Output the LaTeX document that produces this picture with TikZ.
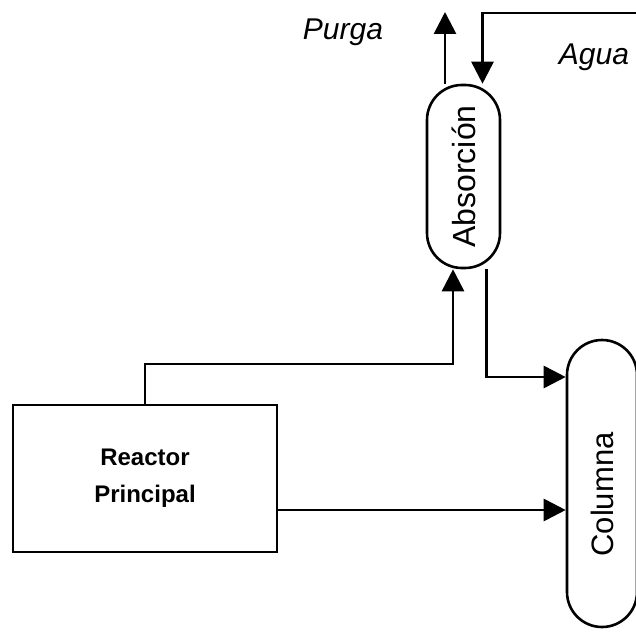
\documentclass[tikz,border=0pt]{standalone}
\usepackage{fontspec}
\setmainfont{Liberation Sans}
\usepackage{graphicx}
\usetikzlibrary{arrows.meta}
\begin{document}
\begin{tikzpicture}[x=1pt,y=-1pt,
  vessel/.style={draw,line width=2.6pt,rounded corners=35pt,inner sep=0pt},
  flow/.style={line width=2.8pt,-{Triangle[length=22pt,width=22pt]}},
  lbl/.style={font=\fontsize{30}{34}\selectfont\itshape,anchor=base}]
\useasboundingbox (0,0) rectangle (635,636);
\node[draw,line width=2.8pt,minimum width=264pt,minimum height=147pt,align=center,font=\bfseries\fontsize{24}{37}\selectfont] (reac) at (145,478.5){Reactor\\Principal};
\node[vessel,minimum width=73pt,minimum height=183pt,font=\fontsize{32}{38}\selectfont] (abs) at (463.5,176.5){\rotatebox{90}{Absorción}};
\node[vessel,minimum width=70pt,minimum height=287pt,font=\fontsize{31}{37}\selectfont] (col) at (602,483.5){\rotatebox{90}{\raisebox{0pt}{Columna}\hspace{22pt}}};
\coordinate (purga) at (445,12);
\coordinate (agua) at (640,13);
\coordinate (rout) at (277,510);
\draw [flow](reac.north) -- (145,364) -| ([xshift=-10.5pt]abs.south);
\draw [flow]([xshift=23pt]abs.south) |- ([yshift=106.5pt]col.west);
\draw [flow](rout) -- (rout -| col.west);
\draw [flow](purga |- abs.north) -- (purga);
\node[lbl] (purgalbl) at (343,40) {Purga};
\draw [flow](agua) -| ([xshift=19pt]abs.north);
\node[lbl] (agualbl) at (594,65) {Agua};
\end{tikzpicture}
\end{document}
